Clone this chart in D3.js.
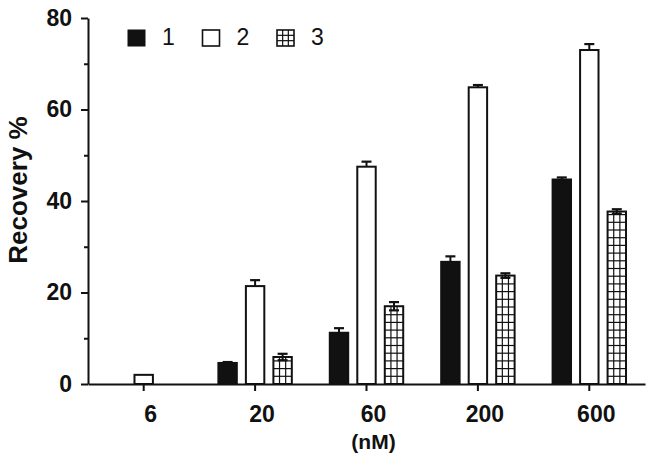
<!DOCTYPE html>
<html>
<head>
<meta charset="utf-8">
<script src="https://cdn.jsdelivr.net/npm/d3@7"></script>
<style>
  html, body { margin: 0; padding: 0; background: #fff; }
  svg { display: block; }
</style>
</head>
<body>
<svg id="chart" width="651" height="465"></svg>
<script>
// ---- data ----
const categories = ["6", "20", "60", "200", "600"];
const seriesNames = ["1", "2", "3"];
const series1 = [0, 4.6, 11.2, 26.7, 44.7];
const series1Err = [0, 0.2, 1.0, 1.2, 0.45];
const series2 = [2.0, 21.4, 47.5, 64.85, 73.0];
const series2Err = [0, 1.3, 1.1, 0.5, 1.3];
const series3 = [0, 5.9, 17.0, 23.7, 37.7];
const series3Err = [0, 0.7, 0.9, 0.5, 0.5];
const yTicks = [0, 20, 40, 60, 80];
const yMinorTicks = [10, 30, 50, 70];
const yTitle = "Recovery %";
const xTitle = "(nM)";

(function () {
// ---- layout ----
const svg = d3.select("#chart");
const pLeft = 88, pRight = 645, pTop = 18, pBottom = 384;
const font = "'Liberation Sans', Arial, Helvetica, sans-serif";

const x0 = d3.scaleBand().domain(categories).range([pLeft, pRight]).padding(0);
const bw = x0.bandwidth();
const x1 = d3.scaleBand().domain(seriesNames)
  .range([bw / 2 - 41.25, bw / 2 + 41.25]).paddingInner(0.33).paddingOuter(0.165);
const y = d3.scaleLinear().domain([0, 80]).range([pBottom, pTop]);

const data = [];
const allVals = [series1, series2, series3];
const allErr = [series1Err, series2Err, series3Err];
categories.forEach((c, i) => {
  seriesNames.forEach((s, j) => {
    data.push({ cat: c, s: s, si: j, v: allVals[j][i], e: allErr[j][i] });
  });
});
const bars = data.filter(d => d.v > 0);

const g = svg.append("g");

// bars
const barW = x1.bandwidth();
bars.forEach(d => {
  const bx = x0(d.cat) + x1(d.s);
  const by = y(d.v);
  const bh = y(0) - by;
  const bg = g.append("g");
  bg.append("rect")
    .attr("x", bx).attr("y", by).attr("width", barW).attr("height", bh)
    .attr("fill", d.si === 0 ? "#111" : "#fff")
    .attr("stroke", "#111").attr("stroke-width", 2);
  if (d.si === 2) {
    const hstep = 7.7;
    for (let k = 1; k < 3; k++) {
      bg.append("line")
        .attr("x1", bx + barW * k / 3).attr("x2", bx + barW * k / 3)
        .attr("y1", by).attr("y2", y(0))
        .attr("stroke", "#111").attr("stroke-width", 1.2);
    }
    for (let yy = y(0) - hstep; yy > by + 1; yy -= hstep) {
      bg.append("line")
        .attr("x1", bx).attr("x2", bx + barW)
        .attr("y1", yy).attr("y2", yy)
        .attr("stroke", "#111").attr("stroke-width", 1.2);
    }
  }
  if (d.e > 0) {
    const cx = bx + barW / 2;
    const capW = 10;
    const yTop = y(d.v + d.e);
    const yBot = d.si === 2 ? y(d.v - d.e) : y(d.v);
    bg.append("line").attr("x1", cx).attr("x2", cx)
      .attr("y1", yTop).attr("y2", yBot)
      .attr("stroke", "#111").attr("stroke-width", 2);
    bg.append("line").attr("x1", cx - capW / 2).attr("x2", cx + capW / 2)
      .attr("y1", yTop).attr("y2", yTop)
      .attr("stroke", "#111").attr("stroke-width", 2.2);
    if (d.si === 2) {
      bg.append("line").attr("x1", cx - capW / 2).attr("x2", cx + capW / 2)
        .attr("y1", yBot).attr("y2", yBot)
        .attr("stroke", "#111").attr("stroke-width", 2.2);
    }
  }
});

// y axis
const yAxis = d3.axisLeft(y).tickValues(yTicks).tickSize(7).tickPadding(9)
  .tickSizeOuter(0);
const ya = svg.append("g").attr("transform", `translate(${pLeft},0)`).call(yAxis);
ya.select(".domain").attr("stroke", "#111").attr("stroke-width", 2);
ya.selectAll(".tick line").attr("stroke", "#111").attr("stroke-width", 2);
ya.selectAll(".tick text").attr("font-family", font).attr("font-weight", "bold")
  .attr("font-size", 23).attr("fill", "#111");
const yMinor = d3.axisLeft(y).tickValues(yMinorTicks).tickSize(4).tickFormat("");
const ym = svg.append("g").attr("transform", `translate(${pLeft},0)`).call(yMinor);
ym.select(".domain").remove();
ym.selectAll(".tick line").attr("stroke", "#111").attr("stroke-width", 2);

// x axis
const xAxis = d3.axisBottom(x0).tickSize(7).tickPadding(15).tickSizeOuter(0);
const xa = svg.append("g").attr("transform", `translate(0,${pBottom})`).call(xAxis);
xa.select(".domain").attr("stroke", "#111").attr("stroke-width", 2);
xa.selectAll(".tick line").attr("stroke", "#111").attr("stroke-width", 2);
xa.selectAll(".tick text").attr("font-family", font).attr("font-weight", "bold")
  .attr("font-size", 23).attr("fill", "#111").attr("dx", 7);

// titles
svg.append("text")
  .attr("transform", `translate(27,190) rotate(-90)`)
  .attr("text-anchor", "middle")
  .attr("font-family", font).attr("font-weight", "bold").attr("font-size", 26)
  .attr("fill", "#111").text(yTitle);
svg.append("text")
  .attr("x", (x0("60") + bw / 2) + 7).attr("y", 449)
  .attr("text-anchor", "middle")
  .attr("font-family", font).attr("font-weight", "bold").attr("font-size", 21)
  .attr("fill", "#111").text(xTitle);

// legend
const legX = d3.scalePoint().domain(seriesNames).range([128, 277]);
const sq = 16;
seriesNames.forEach((s, j) => {
  const lx = legX(s), ly = 30;
  const lg = svg.append("g");
  lg.append("rect").attr("x", lx).attr("y", ly).attr("width", sq + 1).attr("height", sq)
    .attr("fill", j === 0 ? "#111" : "#fff")
    .attr("stroke", "#111").attr("stroke-width", j === 0 ? 1 : 1.6);
  if (j === 2) {
    for (let k = 1; k < 3; k++) {
      lg.append("line").attr("x1", lx + (sq + 1) * k / 3).attr("x2", lx + (sq + 1) * k / 3)
        .attr("y1", ly).attr("y2", ly + sq).attr("stroke", "#111").attr("stroke-width", 1.2);
      lg.append("line").attr("x1", lx).attr("x2", lx + sq + 1)
        .attr("y1", ly + sq * k / 3).attr("y2", ly + sq * k / 3)
        .attr("stroke", "#111").attr("stroke-width", 1.2);
    }
  }
  lg.append("text").attr("x", lx + sq + 18).attr("y", ly + 15)
    .attr("font-family", font).attr("font-size", 23).attr("fill", "#111").text(s);
});
})();
</script>
</body>
</html>
